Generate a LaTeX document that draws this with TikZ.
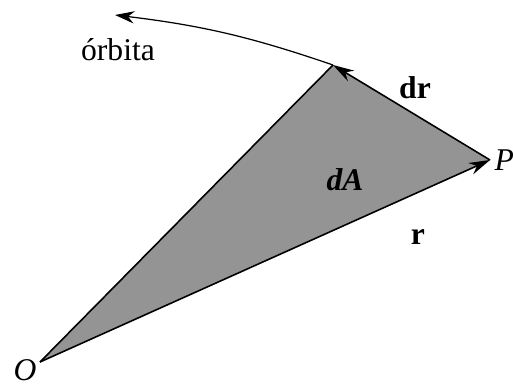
\documentclass[tikz,border=0pt]{standalone}
\usepackage{fontspec}
\setmainfont{Liberation Serif}
\usetikzlibrary{arrows.meta, positioning, calc}
\tikzset{
  vecarrow/.style={line width=0.9pt, -{Stealth[length=12pt, width=7pt]}},
  lbl/.style={font=\fontsize{18}{20}\selectfont, inner sep=1pt}
}

\begin{document}
\begin{tikzpicture}
  \useasboundingbox (0,0) rectangle (10.26,7.7);
  % points of the sector
  \coordinate (O) at (0.8,0.46);
  \coordinate (P) at (9.8,4.5);
  \coordinate (Pp) at (6.66,6.4);
  \coordinate (orbend) at (2.3,7.4);
  % swept area
  \fill[black!42] (O) -- (P) -- (Pp) -- cycle;
  \draw[line width=0.9pt] (O) -- (Pp);
  \draw[vecarrow] (O) -- (P);
  \draw[vecarrow] (P) -- (Pp);
  \draw[line width=0.7pt, -{Stealth[length=11pt, width=7pt]}] (Pp) to[bend right=6] (orbend);
  % labels
  \node[lbl] (orbita) at (2.36,6.7) {órbita};
  \node[lbl, font=\fontsize{18}{20}\selectfont\bfseries] (drlbl) at (8.3,5.94) {dr};
  \node[lbl, font=\fontsize{18}{20}\selectfont\bfseries\itshape] (dAlbl) at (6.9,4.1) {dA};
  \node[lbl, font=\fontsize{18}{20}\selectfont\bfseries] (rlbl) at (8.36,2.96) {r};
  \node[lbl, font=\fontsize{18}{20}\selectfont\itshape, right=0.05 of P] (Plbl) {P};
  \node[lbl, font=\fontsize{18}{20}\selectfont\itshape] (Olbl) at (0.5,0.3) {O};
\end{tikzpicture}
\end{document}
